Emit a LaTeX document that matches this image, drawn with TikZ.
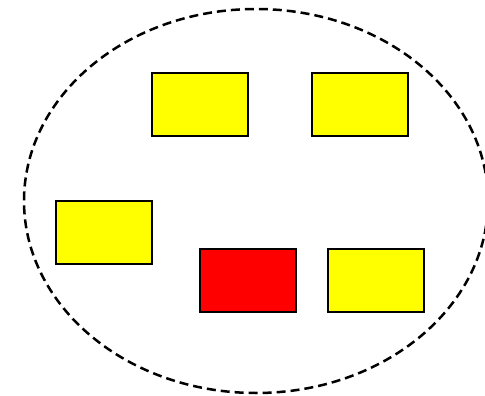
\documentclass[tikz,border=0pt]{standalone}
\usetikzlibrary{shapes.geometric}
\definecolor{pureyellow}{RGB}{255,255,0}
\definecolor{purered}{RGB}{255,0,0}
\begin{document}
\begin{tikzpicture}[x=1pt,y=-1pt,
  box/.style={draw=black,line width=2.5pt,fill=pureyellow,minimum width=96pt,minimum height=63pt,inner sep=0pt},
  redbox/.style={box,fill=purered},
  ring/.style={draw=black,line width=2.5pt,dash pattern=on 9pt off 5pt}]
\useasboundingbox (0,0) rectangle (485,396);
\clip (0,0) rectangle (485,396);
\node[ring,ellipse,minimum width=464pt,minimum height=384pt,inner sep=0pt] (ell) at (256,201) {};
\node[box] (b1) at (200,104.5) {};
\node[box] (b2) at (360,104.5) {};
\node[box] (b3) at (104,232.5) {};
\node[redbox] (b4) at (248,280.5) {};
\node[box] (b5) at (376,280.5) {};
\end{tikzpicture}
\end{document}
